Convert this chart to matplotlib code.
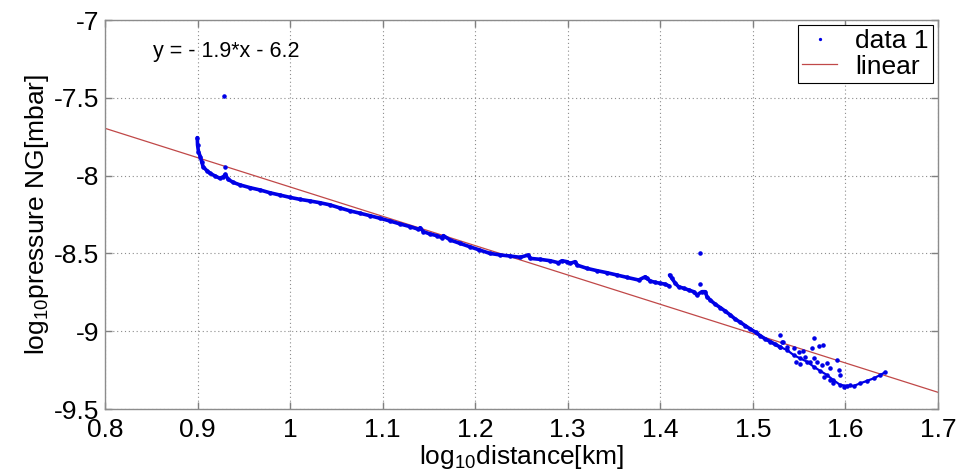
import numpy as np
import matplotlib
matplotlib.use("Agg")
import matplotlib.pyplot as plt

# log10 distance / log10 pressure

# main band, first part (up to the jump near 1.41)
trace1_x = [0.8997, 0.900, 0.901, 0.903, 0.9045, 0.906, 0.910, 0.9135, 0.919, 0.924,
            0.928, 0.930, 0.933, 0.9387, 0.946, 0.957, 0.968, 0.978, 0.989, 1.000,
            1.011, 1.0215, 1.032, 1.043, 1.054, 1.065, 1.0757, 1.0865, 1.097, 1.108,
            1.119, 1.1297, 1.1387, 1.1405, 1.144, 1.151, 1.1586, 1.164, 1.1657, 1.173,
            1.1838, 1.1946, 1.2036, 1.216, 1.227, 1.2378, 1.2486, 1.2576, 1.2595, 1.270,
            1.281, 1.290, 1.2937, 1.299, 1.3027, 1.308, 1.310, 1.3207, 1.3316, 1.3424,
            1.3532, 1.364, 1.3766, 1.3838, 1.3856, 1.389, 1.3946, 1.400, 1.4054, 1.409]
trace1_y = [-7.756, -7.803, -7.846, -7.878, -7.911, -7.943, -7.968, -7.985, -8.003, -8.017,
            -8.007, -7.992, -8.024, -8.044, -8.060, -8.078, -8.093, -8.110, -8.125, -8.140,
            -8.153, -8.163, -8.174, -8.188, -8.208, -8.227, -8.242, -8.258, -8.274, -8.292,
            -8.311, -8.328, -8.345, -8.335, -8.360, -8.375, -8.386, -8.399, -8.386, -8.414,
            -8.436, -8.458, -8.476, -8.500, -8.510, -8.517, -8.525, -8.510, -8.532, -8.538,
            -8.547, -8.560, -8.547, -8.553, -8.564, -8.553, -8.575, -8.596, -8.611, -8.624,
            -8.639, -8.654, -8.671, -8.650, -8.660, -8.677, -8.686, -8.692, -8.698, -8.708]

# main band, second part (after the jump)
trace2_x = [1.410, 1.4126, 1.4162, 1.4198, 1.4252, 1.4306, 1.436, 1.4396, 1.445, 1.4486,
            1.4504, 1.454, 1.4595, 1.465, 1.470, 1.4757, 1.481, 1.4865, 1.492, 1.4973,
            1.503, 1.508, 1.5135, 1.519, 1.524, 1.529]
trace2_y = [-8.639, -8.660, -8.692, -8.714, -8.724, -8.735, -8.746, -8.767, -8.746, -8.746,
            -8.778, -8.800, -8.827, -8.849, -8.870, -8.896, -8.922, -8.943, -8.965, -8.986,
            -9.007, -9.029, -9.050, -9.067, -9.084, -9.100]

# noisy tail
tail_x = [1.529, 1.537, 1.544, 1.551, 1.5586, 1.5658, 1.573, 1.580, 1.587, 1.5946,
          1.6018, 1.609, 1.616, 1.623, 1.6306, 1.6378, 1.643]
tail_y = [-9.100, -9.121, -9.153, -9.174, -9.196, -9.228, -9.256, -9.281, -9.314, -9.346,
          -9.350, -9.352, -9.335, -9.320, -9.303, -9.281, -9.264]

# scattered single points
scatter_x = [0.9286, 0.930, 1.4425, 1.4432, 1.529, 1.5315, 1.533, 1.537, 1.544, 1.5495,
             1.554, 1.5568, 1.562, 1.5658, 1.5658, 1.564, 1.569, 1.572, 1.575, 1.576,
             1.5766, 1.580, 1.5838, 1.5838, 1.587, 1.591, 1.593, 1.594, 1.598, 1.605,
             1.551, 1.547]
scatter_y = [-7.488, -7.943, -8.698, -8.500, -9.024, -9.067, -9.069, -9.100, -9.110, -9.132,
             -9.127, -9.164, -9.196, -9.042, -9.174, -9.106, -9.196, -9.093, -9.217, -9.089,
             -9.292, -9.206, -9.238, -9.314, -9.335, -9.185, -9.249, -9.281, -9.357, -9.346,
             -9.213, -9.196]

# linear fit  y = p1*x + p0
fit_coef = [-1.885, -6.188]
fit_text = "y = - 1.9*x - 6.2"

x_ticks = [0.8, 0.9, 1, 1.1, 1.2, 1.3, 1.4, 1.5, 1.6, 1.7]
x_tick_labels = ["0.8", "0.9", "1", "1.1", "1.2", "1.3", "1.4", "1.5", "1.6", "1.7"]
y_ticks = [-9.5, -9, -8.5, -8, -7.5, -7]
y_tick_labels = ["-9.5", "-9", "-8.5", "-8", "-7.5", "-7"]

plt.rcParams["font.family"] = ["Liberation Sans", "DejaVu Sans"]
plt.rcParams["mathtext.fontset"] = "custom"
plt.rcParams["mathtext.rm"] = "Liberation Sans"
plt.rcParams["mathtext.it"] = "Liberation Sans"

blue = "#0000e6"
fs = 19

fig = plt.figure(figsize=(9.59, 4.73), dpi=100)
ax = fig.add_axes([0.1095, 0.1353, 0.8685, 0.8224])

# dense band drawn as a line underneath the dots so it reads solid
ax.plot(trace1_x, trace1_y, color=blue, lw=2.6, solid_capstyle="round", zorder=3)
ax.plot(trace2_x, trace2_y, color=blue, lw=2.6, solid_capstyle="round", zorder=3)
ax.plot(tail_x, tail_y, color=blue, lw=1.6, solid_capstyle="round", zorder=3)

all_x = trace1_x + trace2_x + tail_x + scatter_x
all_y = trace1_y + trace2_y + tail_y + scatter_y
ax.plot(all_x, all_y, ls="none", marker=".", ms=4.5, color=blue, zorder=4,
        label="data 1")

xfit = np.array([0.8, 1.7])
ax.plot(xfit, np.polyval(fit_coef, xfit), color="#c04848", lw=0.9, zorder=2,
        label="linear")

ax.text(0.852, -7.205, fit_text, fontsize=15.5, va="center", ha="left")

ax.set_xlim(0.8, 1.7)
ax.set_ylim(-9.5, -7)
ax.set_xticks(x_ticks)
ax.set_xticklabels(x_tick_labels)
ax.set_yticks(y_ticks)
ax.set_yticklabels(y_tick_labels)
ax.tick_params(direction="in", length=5, width=1, colors="0.5", labelcolor="black",
               labelsize=fs, top=True, right=True)
ax.tick_params(axis="x", pad=6.5)
ax.tick_params(axis="y", pad=4)
for s in ax.spines.values():
    s.set_color("0.55")
    s.set_linewidth(1)
ax.grid(True, color="0.55", lw=0.8, ls=(0, (1, 2.5)))
ax.set_axisbelow(True)

ax.set_xlabel(r"log$_{10}$distance[km]", fontsize=fs, labelpad=0.5)
ax.set_ylabel(r"log$_{10}$pressure NG[mbar]", fontsize=fs, labelpad=2)

leg = ax.legend(loc="upper right", fontsize=fs, fancybox=False, framealpha=1,
                edgecolor="black", borderaxespad=0.2, handlelength=1.3,
                handletextpad=0.7, borderpad=0.15, labelspacing=0.05, markerscale=0.6)
leg.get_frame().set_linewidth(0.8)

fig.savefig("out.png", dpi=100)
